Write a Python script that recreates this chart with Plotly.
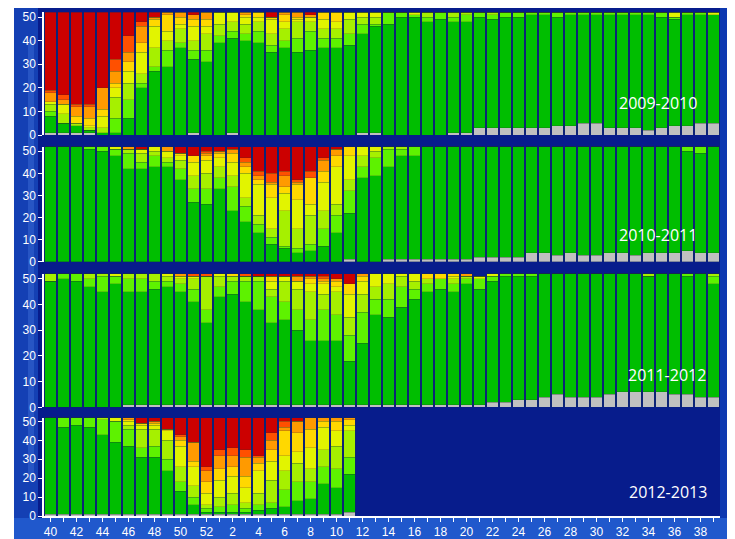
import plotly.graph_objects as go

# ---------------- data ----------------
weeks = list(range(40, 53)) + list(range(1, 40))
week_labels = [str(w) for w in weeks]
tick_text = [str(w) if w % 2 == 0 else "" for w in weeks]

categories = ["No report", "No activity", "Low", "Low-medium", "Medium",
              "Medium-high", "High", "High-very high", "Very high"]
colors = ["#C0C0C0", "#00BE00", "#5EF200", "#A6F000", "#E2F400",
          "#FFD800", "#FF9A00", "#FF5000", "#CC0000"]

seasons = ["2009-2010", "2010-2011", "2011-2012", "2012-2013"]

# counts per week, order: grey, green, lgreen, ygreen, yellow, gold, orange, dkorange, red
s2009_2010 = [
    [1,7,2,3,1,0,4,1,33],[1,4,0,4,4,0,2,2,35],[1,3,0,1,0,3,4,1,39],[1,1,0,1,1,3,5,1,39],
    [0,1,0,2,5,3,9,0,32],[0,1,6,9,4,2,5,5,20],[0,7,8,7,5,4,4,7,10],[0,20,2,4,9,4,7,2,4],
    [0,27,2,8,9,3,1,0,2],[0,29,7,4,4,7,1,0,0],[0,37,2,6,2,3,2,0,0],[1,31,4,4,6,3,2,0,1],
    [0,31,5,7,3,3,3,0,0],[0,39,3,5,5],[1,40,3,4,4],[0,40,3,4,3,1,1],
    [0,39,5,4,2,2],[0,35,3,5,6,1,0,0,2],[0,37,3,5,3,3,1],[0,35,6,7,1,1,2],
    [0,36,8,4,2,0,1,0,1],[0,37,4,4,4,3],[0,37,4,4,3,4],[0,38,5,6,3],
    [1,42,4,3,2],[1,45,1,3,2],[0,47,5],[0,50,2],
    [0,50,1,0,1],[0,48,2,2],[0,49,3],[1,47,2,2],
    [1,47,3,1],[3,47,2],[3,46,2,1],[3,47,2],
    [3,47,2],[3,48,1],[3,48,1],[4,46,2],
    [4,47,1],[5,46,1],[5,46,1],[3,48,1],
    [3,48,1],[3,48,1],[2,49,1],[3,47,2],
    [4,45,1,0,2],[4,47,1],[5,46,1],[5,46,0,0,1],
]
s2010_2011 = [
    [0,52],[0,52],[0,52],[0,51,1],
    [0,50,2],[0,48,3,0,1],[0,42,7,2,0,0,1],[0,42,3,4,2,0,0,0,1],
    [0,43,5,2,2],[0,43,2,2,3,0,2],[0,37,5,4,2,1,0,0,3],[0,27,6,6,6,3,0,0,4],
    [0,26,7,7,6,2,1,1,2],[0,33,5,5,4,2,1,0,2],[0,23,11,5,6,4,2,0,1],[0,18,7,4,11,3,2,2,5],
    [0,13,4,4,14,2,2,2,11],[0,8,3,4,14,6,1,4,12],[0,6,1,16,8,3,5,2,11],[0,4,2,9,13,7,1,1,15],
    [0,5,3,13,5,12,0,3,11],[0,7,8,8,13,5,5,1,5],[0,13,8,5,17,5,3,0,1],[1,21,10,5,11,4],
    [0,38,5,5,4],[0,39,8,3,2],[1,42,8,1],[1,47,3,1],
    [1,47,4],[1,51],[1,51],[1,51],
    [1,51],[2,50],[2,50],[2,50],
    [2,50],[4,48],[4,48],[3,49],
    [4,48],[3,49],[3,49],[4,48],
    [4,48],[3,49],[4,48],[4,48],
    [4,48],[5,45,2],[4,45,3],[4,48],
]
s2011_2012 = [
    [0,49,0,3],[0,50,2],[0,49,3],[0,47,3,2],
    [0,45,6,1],[0,48,3,0,1],[1,44,5,2],[1,44,5,2],
    [1,45,3,3],[1,46,2,2,1],[1,44,3,2,1,0,1],[1,40,5,4,1,0,0,1],
    [1,32,5,13,0,0,0,1],[1,42,4,4,1],[1,43,5,2,0,1],[1,40,8,2,0,0,0,1],
    [1,37,11,2,0,0,0,0,1],[1,32,10,3,3,2,0,0,1],[1,33,7,8,2,0,0,0,1],[1,29,8,8,3,0,2,0,1],
    [1,25,8,11,3,2,1,0,1],[1,25,12,6,4,1,1,1,1],[1,25,10,9,2,2,1,0,2],[1,17,10,7,9,4,0,0,4],
    [1,24,12,7,5,2,1],[1,35,6,5,5],[1,34,7,6,4],[1,38,8,4,1],
    [1,41,4,3,3],[1,44,3,2,0,2],[1,45,4,0,0,2],[1,44,3,2,1,1],
    [1,47,2,1,0,0,1],[1,45,4,0,1],[2,47,2,0,1],[2,49,1],
    [3,48,1],[3,48,1],[4,48],[5,47],
    [4,48],[4,48],[4,48],[5,47],
    [6,46],[6,46],[6,45,0,1],[6,46],
    [5,47],[5,46,1],[4,48],[4,44,3,1],
]
s2012_2013 = [
    [1,51],[1,46,5],[1,47,4],[1,46,5],
    [1,42,8,1],[1,38,11,0,2],[1,36,9,2,2,1,1],[1,30,5,10,2,1,0,0,3],
    [1,30,6,9,2,1,1,0,2],[1,23,6,10,5,1,0,0,6],[1,12,5,8,11,3,2,1,9],[1,5,4,6,10,3,10,0,13],
    [1,1,2,2,6,6,6,2,26],[1,1,3,5,9,6,7,3,17],[1,1,4,6,9,5,6,4,16],[1,1,2,3,8,6,10,4,17],
    [1,2,3,6,12,4,3,1,20],[1,3,3,12,10,6,5,4,8],[1,4,9,10,8,13,2,3,2],[1,7,10,10,6,10,6,0,2],
    [1,8,9,7,11,10,6],[1,16,9,9,12,3,2],[1,14,10,12,8,5,2],[2,20,9,14,3,3,1],
]
season_data = [s2009_2010, s2010_2011, s2011_2012, s2012_2013]

# ---------------- layout geometry (screen pixels) ----------------
OFF = 8                       # default page body margin
W, H = 735 - OFF, 539 - OFF   # figure size so it fits the window
PX0, PX1 = 44, 720            # plot area, screen x
PY0, PY1 = 12, 516            # plot area, screen y
L, T = PX0 - OFF, PY0 - OFF
R, B = (W + OFF) - PX1, (H + OFF) - PY1
PW, PH = PX1 - PX0, PY1 - PY0

def px_x(px):
    return (px - PX0) / PW

def px_y(py):
    return (PY1 - py) / PH

panel_px = [(12.3, 135.0), (146.8, 261.7), (273.7, 407.3), (417.7, 516.0)]
label_px = [(658, 103), (658, 235), (667, 375), (668, 492)]

fig = go.Figure()
for p, rows in enumerate(season_data):
    xa = "x" if p == 0 else f"x{p+1}"
    ya = "y" if p == 0 else f"y{p+1}"
    for c, (name, col) in enumerate(zip(categories, colors)):
        vals = []
        for i in range(len(weeks)):
            if i < len(rows):
                r = rows[i]
                vals.append(r[c] if c < len(r) else 0)
            else:
                vals.append(None)
        fig.add_trace(go.Bar(
            x=week_labels, y=vals, name=name, marker_color=col,
            marker_line=dict(color="rgba(40,60,40,0.35)", width=0.6),
            xaxis=xa, yaxis=ya, showlegend=False,
            hovertemplate=f"{seasons[p]} wk %{{x}}<br>{name}: %{{y}}<extra></extra>",
        ))

layout = dict(
    width=W, height=H, barmode="stack", bargap=0.15,
    margin=dict(l=L, r=R, t=T, b=B, autoexpand=False),
    paper_bgcolor="white", plot_bgcolor="rgba(0,0,0,0)",
    showlegend=False,
)
yfont = dict(color="white", size=12, family="Liberation Sans, Arial, sans-serif")
for p in range(4):
    sx = "xaxis" if p == 0 else f"xaxis{p+1}"
    sy = "yaxis" if p == 0 else f"yaxis{p+1}"
    top, bot = panel_px[p]
    is_bottom = p == 3
    layout[sx] = dict(
        domain=[0, 1], anchor="y" if p == 0 else f"y{p+1}",
        type="category", categoryorder="array", categoryarray=week_labels,
        range=[-0.5, len(weeks) - 0.5],
        tickvals=week_labels, ticktext=tick_text,
        showticklabels=is_bottom, ticks="outside" if is_bottom else "",
        ticklen=4, tickcolor="white", tickwidth=1,
        showline=is_bottom, linecolor="white", linewidth=1.5,
        showgrid=False, zeroline=False, fixedrange=True, automargin=False,
        tickfont=dict(color="white", size=12, family="Liberation Sans, Arial, sans-serif"),
    )
    layout[sy] = dict(
        domain=[px_y(bot), px_y(top)], anchor="x" if p == 0 else f"x{p+1}",
        range=[0, 52], tickvals=[0, 10, 20, 30, 40, 50],
        ticks="outside", ticklen=4, tickcolor="white", tickwidth=1,
        showline=True, linecolor="white", linewidth=1.5,
        showgrid=False, zeroline=False, tickfont=yfont, fixedrange=True,
        automargin=False,
    )

shapes = [
    dict(type="rect", xref="paper", yref="paper", layer="below",
         x0=px_x(14), x1=px_x(745), y0=px_y(545), y1=px_y(6),
         fillcolor="#0D38B0", line=dict(width=0)),
    dict(type="rect", xref="paper", yref="paper", layer="below",
         x0=px_x(14), x1=px_x(745), y0=px_y(545), y1=px_y(518),
         fillcolor="#2058CC", line=dict(width=0)),
    dict(type="rect", xref="paper", yref="paper", layer="below",
         x0=px_x(14), x1=px_x(38), y0=px_y(518), y1=px_y(6),
         fillcolor="#1440B4", line=dict(width=0)),
    dict(type="rect", xref="paper", yref="paper", layer="below",
         x0=px_x(28), x1=px_x(34), y0=px_y(480), y1=px_y(40),
         fillcolor="#3A6AD4", opacity=0.5, line=dict(width=0)),
    dict(type="rect", xref="paper", yref="paper", layer="below",
         x0=px_x(38), x1=px_x(720), y0=px_y(518), y1=px_y(8),
         fillcolor="#071C8C", line=dict(width=0)),
]
layout["shapes"] = shapes

layout["annotations"] = [
    dict(text=s, x=px_x(lx), y=px_y(ly), xref="paper", yref="paper",
         showarrow=False, xanchor="center", yanchor="middle",
         font=dict(color="white", size=16, family="Open Sans, Noto Sans, sans-serif"))
    for s, (lx, ly) in zip(seasons, label_px)
]

fig.update_layout(**layout)
fig.write_html("out.html")
